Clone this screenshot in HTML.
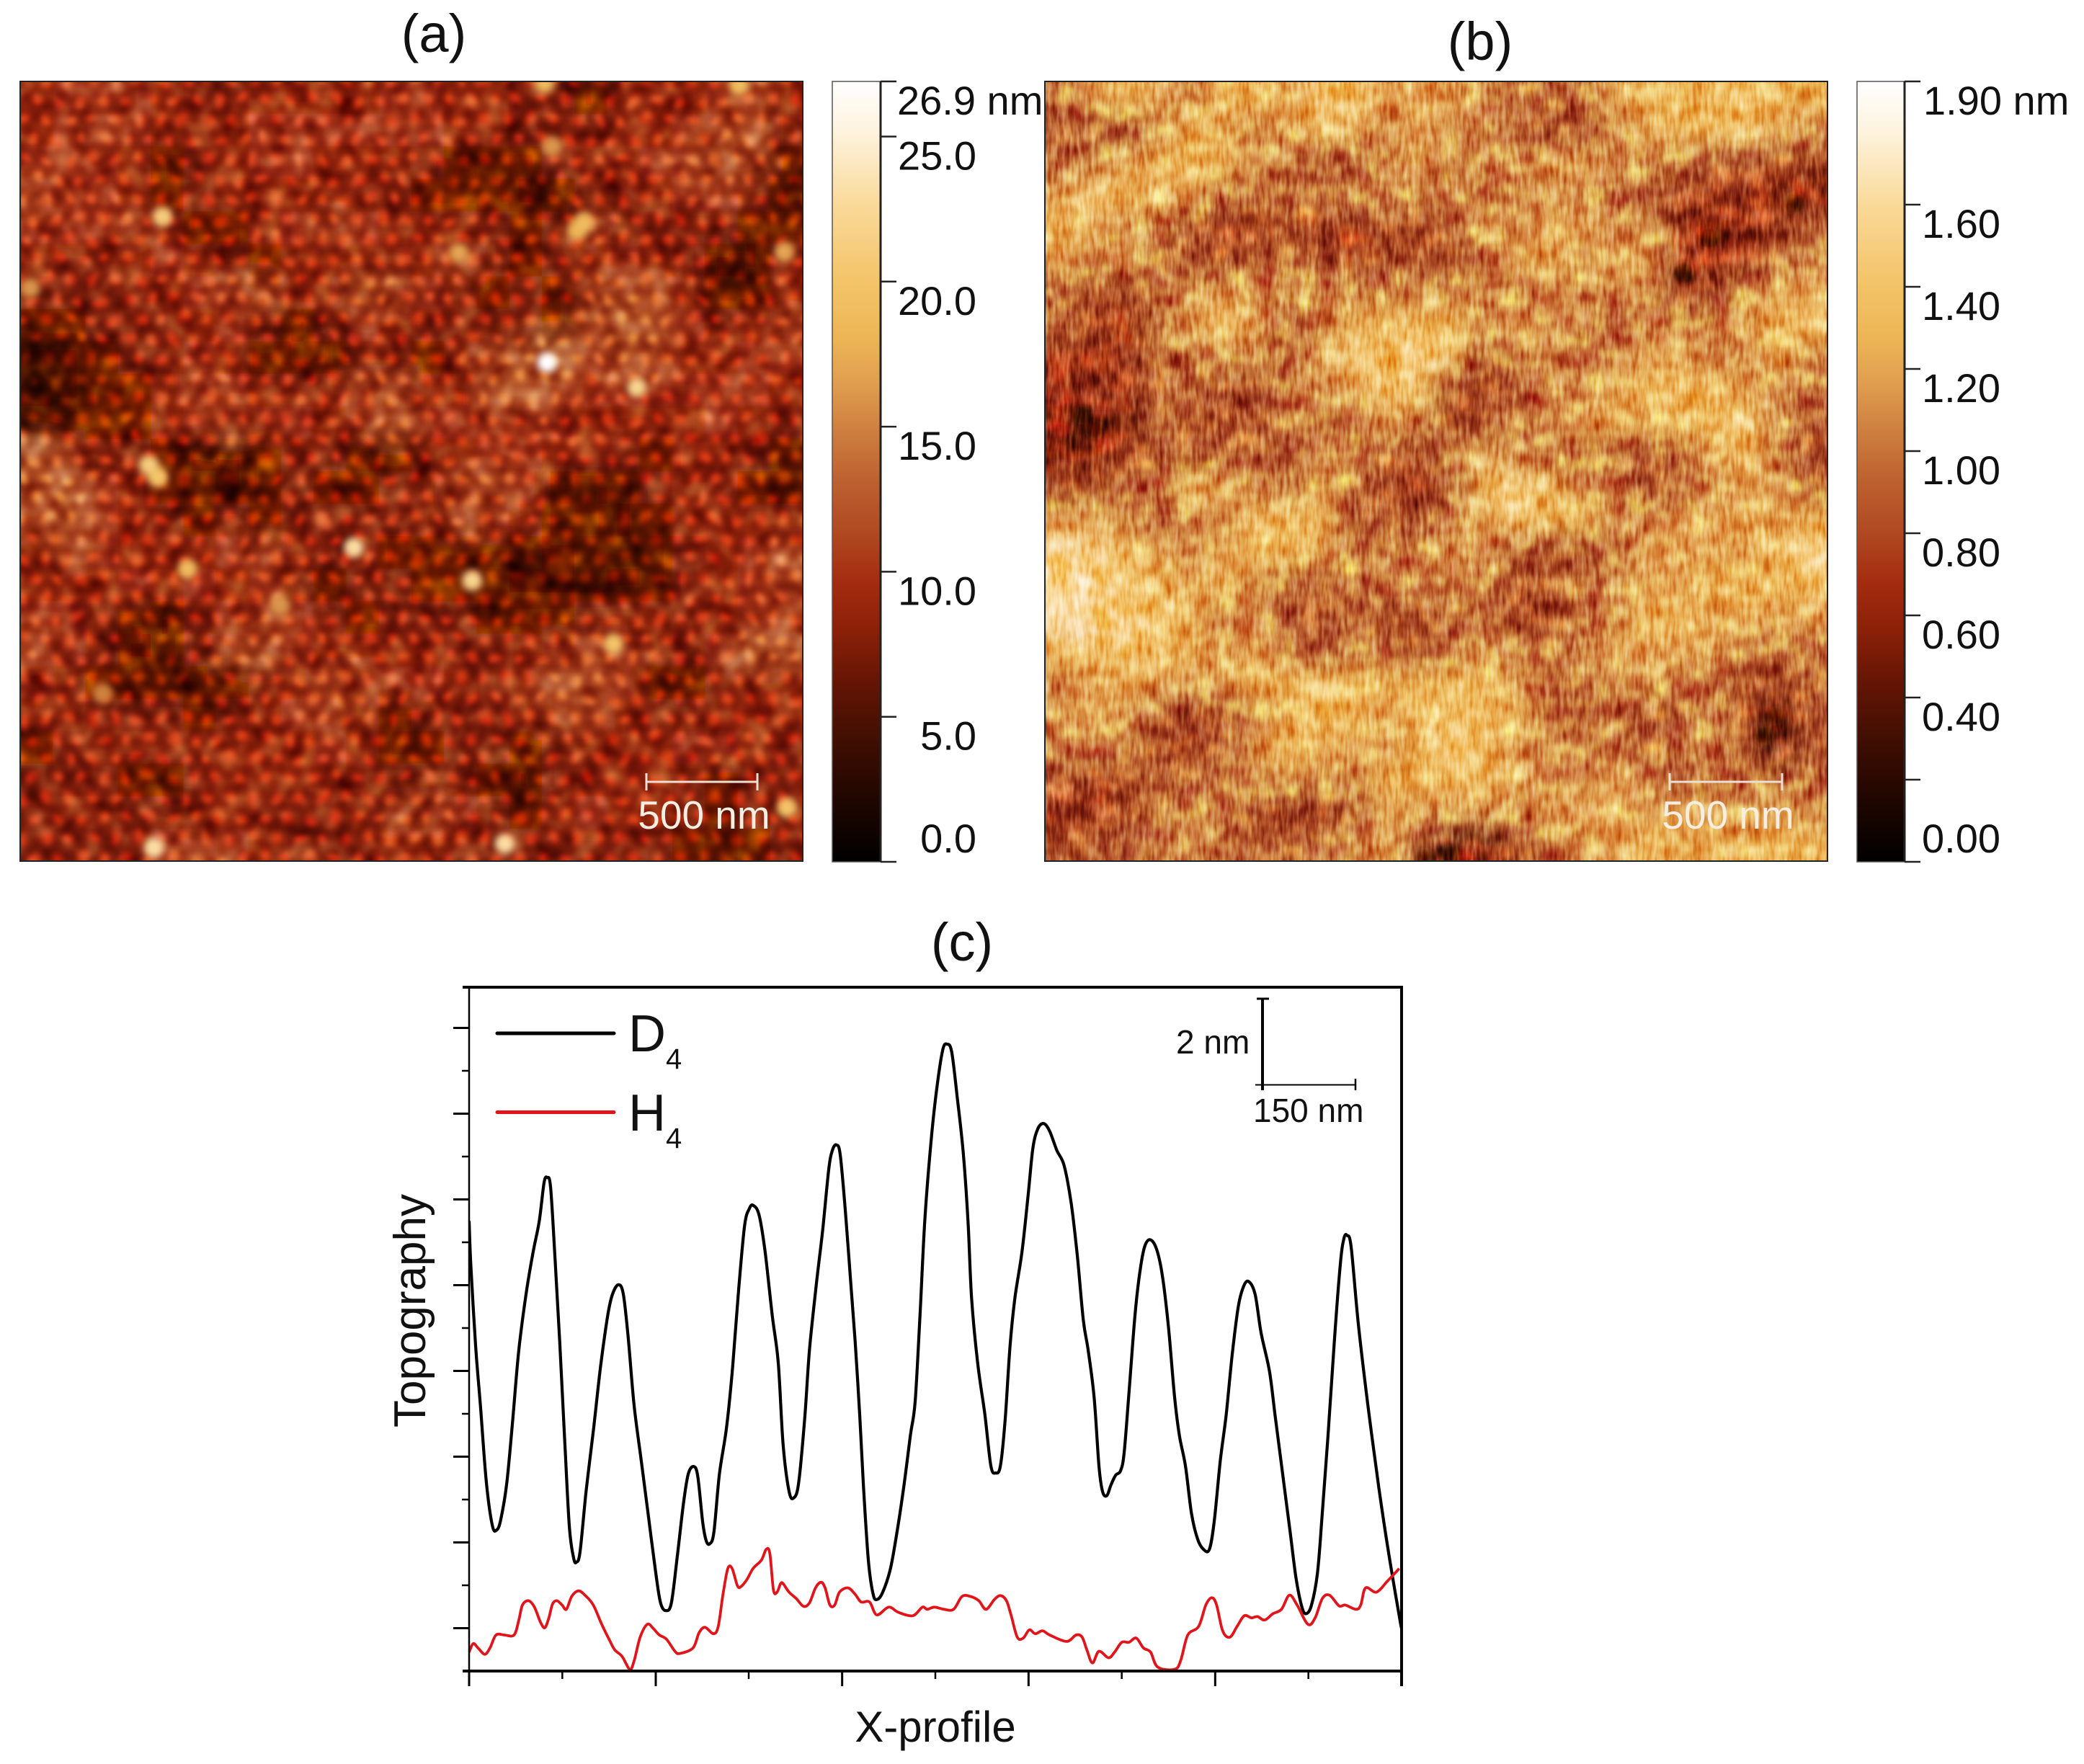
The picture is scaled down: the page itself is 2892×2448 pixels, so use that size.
<!DOCTYPE html>
<html lang="en">
<head>
<meta charset="utf-8">
<title>AFM topography of D4 and H4 films</title>
<style>
  html, body { margin: 0; padding: 0; background: #fff; }
  svg { display: block; }
  text { font-family: "Liberation Sans", sans-serif; fill: #111; }
</style>
</head>
<body>
<svg id="fig" xmlns="http://www.w3.org/2000/svg" width="2892" height="2448" viewBox="0 0 2892 2448">
  <defs>
    <clipPath id="clipA"><rect x="28" y="113" width="1086" height="1082"/></clipPath>
    <clipPath id="clipB"><rect x="1450" y="113" width="1086" height="1082"/></clipPath>
    <clipPath id="clipC"><rect x="651" y="1370" width="1294" height="949"/></clipPath>
    <filter id="smooth" filterUnits="userSpaceOnUse" x="-200" y="-100" width="3300" height="1600"><feGaussianBlur stdDeviation="18"/></filter>
    <filter id="soft" filterUnits="userSpaceOnUse" x="-200" y="-100" width="3300" height="1600"><feGaussianBlur stdDeviation="5"/></filter>
    <radialGradient id="dot"><stop offset="0" stop-color="#e4e4e4"/><stop offset="0.4" stop-color="#b8b8b8"/><stop offset="1" stop-color="#707070" stop-opacity="0"/></radialGradient>
    <pattern id="lattice" width="32" height="55.4" patternUnits="userSpaceOnUse">
      <rect width="32" height="55.4" fill="#707070"/>
      <circle cx="0" cy="0" r="15" fill="url(#dot)"/><circle cx="32" cy="0" r="15" fill="url(#dot)"/>
      <circle cx="0" cy="55.4" r="15" fill="url(#dot)"/><circle cx="32" cy="55.4" r="15" fill="url(#dot)"/>
      <circle cx="16" cy="27.7" r="15" fill="url(#dot)"/>
    </pattern>
    <filter id="warp" filterUnits="userSpaceOnUse" x="-100" y="0" width="1400" height="1300" color-interpolation-filters="sRGB">
      <feTurbulence type="fractalNoise" baseFrequency="0.018" numOctaves="2" seed="4" result="n"/>
      <feDisplacementMap in="SourceGraphic" in2="n" scale="22" xChannelSelector="R" yChannelSelector="G"/>
      <feGaussianBlur stdDeviation="2.4"/>
    </filter>
    <filter id="mottleA" filterUnits="userSpaceOnUse" x="20" y="100" width="1110" height="1110" color-interpolation-filters="sRGB">
      <feTurbulence type="fractalNoise" baseFrequency="0.03" numOctaves="2" seed="21"/>
      <feColorMatrix type="matrix" values="1.3 0 0 0 -0.15  1.3 0 0 0 -0.15  1.3 0 0 0 -0.15  0 0 0 0 1"/>
    </filter>
    <filter id="grain" filterUnits="userSpaceOnUse" x="1440" y="100" width="1110" height="1110" color-interpolation-filters="sRGB">
      <feTurbulence type="fractalNoise" baseFrequency="0.2 0.035" numOctaves="2" seed="7"/>
      <feColorMatrix type="matrix" values="1.3 0 0 0 -0.15  1.3 0 0 0 -0.15  1.3 0 0 0 -0.15  0 0 0 0 1"/>
    </filter>
    <filter id="mottle" filterUnits="userSpaceOnUse" x="1440" y="100" width="1110" height="1110" color-interpolation-filters="sRGB">
      <feTurbulence type="fractalNoise" baseFrequency="0.035" numOctaves="2" seed="11"/>
      <feColorMatrix type="matrix" values="1 0 0 0 0  1 0 0 0 0  1 0 0 0 0  0 0 0 0 1"/>
    </filter>
    <linearGradient id="barGradient" x1="0" y1="1" x2="0" y2="0"></linearGradient>
  </defs>

  <rect x="0" y="0" width="2892" height="2448" fill="#ffffff"/>

  <text x="602" y="72" font-size="74" text-anchor="middle">(a)</text>
  <text x="2054" y="83" font-size="74" text-anchor="middle">(b)</text>
  <text x="1335" y="1333" font-size="74" text-anchor="middle">(c)</text>

  <!-- Panel a -->
  <g clip-path="url(#clipA)" style="isolation:isolate">
    <rect x="28" y="113" width="1086" height="1082" fill="#8e3210"/>
    <g id="cellsA" filter="url(#smooth)"></g>
    <rect x="-40" y="50" width="1230" height="1210" fill="url(#lattice)" filter="url(#warp)" style="mix-blend-mode:overlay"/>
    <rect x="28" y="113" width="1086" height="1082" fill="#808080" filter="url(#mottleA)" style="mix-blend-mode:soft-light"/>
    <g id="particlesA" filter="url(#soft)"></g>
  </g>
  <rect x="28" y="113" width="1086" height="1082" fill="none" stroke="#222" stroke-width="2"/>
  <g stroke="#eadfd2" stroke-width="3" fill="none">
    <line x1="897" y1="1085" x2="1051" y2="1085"/><line x1="897" y1="1073" x2="897" y2="1097"/><line x1="1051" y1="1073" x2="1051" y2="1097"/>
  </g>
  <text x="977" y="1150" font-size="55" text-anchor="middle" style="fill:#f6eee2">500 nm</text>

  <!-- Panel b -->
  <g clip-path="url(#clipB)" style="isolation:isolate">
    <rect x="1450" y="113" width="1086" height="1082" fill="#d08a48"/>
    <g id="cellsB" filter="url(#smooth)"></g>
    <g id="pitsB" filter="url(#soft)"></g>
    <rect x="1450" y="113" width="1086" height="1082" filter="url(#mottle)" fill="#808080" style="mix-blend-mode:overlay"/>
    <rect x="1450" y="113" width="1086" height="1082" filter="url(#grain)" fill="#808080" style="mix-blend-mode:soft-light"/>
  </g>
  <rect x="1450" y="113" width="1086" height="1082" fill="none" stroke="#222" stroke-width="2"/>
  <g stroke="#eadfd2" stroke-width="3" fill="none">
    <line x1="2317" y1="1085" x2="2473" y2="1085"/><line x1="2317" y1="1073" x2="2317" y2="1097"/><line x1="2473" y1="1073" x2="2473" y2="1097"/>
  </g>
  <text x="2398" y="1150" font-size="55" text-anchor="middle" style="fill:#f6eee2">500 nm</text>

  <!-- Colour bars -->
  <rect x="1155" y="113" width="67" height="1083" fill="url(#barGradient)" stroke="#555" stroke-width="1.5"/>
  <line x1="1222" y1="113" x2="1222" y2="1196" stroke="#222" stroke-width="3"/>
  <g id="barTicksA"></g>
  <rect x="2577" y="113" width="66" height="1083" fill="url(#barGradient)" stroke="#555" stroke-width="1.5"/>
  <line x1="2643" y1="113" x2="2643" y2="1196" stroke="#222" stroke-width="3"/>
  <g id="barTicksB"></g>

  <!-- Panel c -->
  <g id="profileChart">
    <g clip-path="url(#clipC)">
      <path id="lineD4" fill="none" stroke="#000" stroke-width="4.2" stroke-linejoin="round"/>
      <path id="lineH4" fill="none" stroke="#e2141a" stroke-width="3.8" stroke-linejoin="round"/>
    </g>
    <g id="axisTicks" stroke="#000"></g>
    <line x1="651" y1="1370" x2="651" y2="2340" stroke="#000" stroke-width="2.5"/>
    <line x1="642" y1="2319" x2="1947" y2="2319" stroke="#000" stroke-width="4"/>
    <line x1="642" y1="1370" x2="1947" y2="1370" stroke="#000" stroke-width="4"/>
    <line x1="1945" y1="1368" x2="1945" y2="2340" stroke="#000" stroke-width="4"/>

    <line x1="690" y1="1434" x2="852" y2="1434" stroke="#000" stroke-width="5" stroke-linecap="round"/>
    <text x="872" y="1459" font-size="72">D</text>
    <text x="924" y="1483" font-size="40">4</text>
    <line x1="690" y1="1543.5" x2="852" y2="1543.5" stroke="#e2141a" stroke-width="5" stroke-linecap="round"/>
    <text x="872" y="1569" font-size="72">H</text>
    <text x="924" y="1593" font-size="40">4</text>

    <g stroke="#000" fill="none">
      <line x1="1752" y1="1386" x2="1752" y2="1513" stroke-width="4"/>
      <line x1="1744" y1="1386" x2="1761" y2="1386" stroke-width="3"/>
      <line x1="1742" y1="1505.5" x2="1882" y2="1505.5" stroke-width="2"/>
      <line x1="1881" y1="1497" x2="1881" y2="1513" stroke-width="2.5"/>
    </g>
    <text x="1632" y="1462" font-size="46">2 nm</text>
    <text x="1739" y="1557" font-size="46">150 nm</text>

    <text x="590" y="1819" font-size="62" text-anchor="middle" transform="rotate(-90 590 1819)">Topography</text>
    <text x="1298" y="2417" font-size="60" text-anchor="middle">X-profile</text>
  </g>
</svg>

<script>
// ---------- Chart data ----------
// Colour-bar tick values and labels
const barTicksAValues = [0, 5, 10, 15, 20, 25, 26.9];
const barTicksALabels = ["0.0", "5.0", "10.0", "15.0", "20.0", "25.0", "26.9 nm"];
const barTicksBValues = [0, 0.2, 0.4, 0.6, 0.8, 1.0, 1.2, 1.4, 1.6, 1.9];
const barTicksBLabels = ["0.00", "", "0.40", "0.60", "0.80", "1.00", "1.20", "1.40", "1.60", "1.90 nm"];

// Panel (a) height map, nm, estimated on a coarse grid
const heightRowsA = [
[9,10,10,10,9,8,8,9,9,9,9,10,10,9,9,8,8,6,9,9,9,10,11,9],
[9,10,11,10,9,9,9,10,10,10,10,10,10,9,9,8,9,8,9,9,10,11,11,8],
[10,10,10,9,6,8,9,10,10,9,9,9,8,6,7,6,8,9,9,10,11,12,11,7],
[11,10,10,9,7,8,9,9,9,9,8,8,7,7,7,5,6,8,8,9,10,10,8,6],
[10,10,10,11,9,7,7,9,10,11,10,9,9,9,8,7,8,11,8,8,8,8,6,7],
[9,8,8,9,10,9,8,7,9,9,9,8,9,11,8,7,8,9,10,9,8,5,4,9],
[8,8,8,8,9,10,11,11,9,9,12,11,10,8,7,8,7,11,12,11,9,5,7,9],
[7,7,8,8,8,9,10,8,6,8,10,9,8,8,8,8,7,11,13,12,10,8,9,11],
[4,5,7,8,8,10,9,5,7,5,8,8,6,9,11,12,14,10,12,11,9,9,10,10],
[4,4,7,7,9,11,10,9,8,9,11,11,9,9,12,13,11,10,10,10,10,10,10,9],
[6,7,7,7,9,10,11,10,10,9,10,12,10,10,10,10,10,9,9,9,9,10,9,8],
[12,10,8,8,7,5,5,7,8,8,6,7,8,9,10,10,9,9,8,7,9,9,8,6],
[12,13,10,9,7,6,5,7,8,7,7,8,8,11,12,10,6,5,6,8,9,8,7,6],
[11,13,10,9,8,7,8,7,8,8,8,8,9,11,10,9,7,7,5,7,9,9,9,9],
[9,11,10,9,9,9,10,11,9,8,9,7,7,7,7,6,5,6,6,6,8,9,10,11],
[9,9,9,10,9,10,9,10,8,6,8,8,7,7,6,5,5,6,5,6,8,9,10,11],
[10,10,8,7,5,8,10,11,10,8,7,8,8,8,7,7,7,8,9,9,8,9,10,10],
[11,10,8,5,6,8,11,12,10,9,9,9,9,8,8,9,10,11,11,9,8,10,13,12],
[10,8,7,7,6,5,7,8,9,11,11,10,10,9,8,9,12,12,10,7,6,8,9,9],
[9,9,8,8,8,7,8,9,10,11,9,7,8,8,8,9,11,11,9,8,8,9,9,9],
[7,8,9,9,9,9,9,9,9,10,9,6,7,8,8,7,8,9,9,9,10,10,9,8],
[8,8,8,7,5,8,9,9,9,9,8,8,8,8,7,4,8,8,9,9,8,7,8,8],
[8,9,9,8,8,9,9,8,8,8,9,11,11,10,8,7,9,10,9,9,8,7,8,9],
[8,8,8,8,10,11,10,9,8,8,8,9,9,8,8,8,8,8,8,8,7,6,7,8]
];

// Panel (b) height map, nm, estimated on a coarse grid
const heightRowsB = [
[1.0,1.2,1.3,1.2,1.1,1.3,1.3,1.2,1.5,1.4,1.2,1.2,1.2,1.1,1.0,1.0,1.0,1.2,1.3,1.3,1.3,1.4,1.3,1.3],
[0.9,0.85,0.85,1.1,1.3,1.2,1.1,1.2,1.3,1.2,1.1,1.2,1.1,1.1,0.9,0.85,0.85,1.1,1.2,1.3,1.4,1.4,1.2,1.1],
[1.0,1.1,1.2,1.3,1.3,1.3,1.1,1.0,0.9,0.9,1.1,1.2,1.0,1.1,1.1,1.2,1.2,1.1,1.1,1.0,0.9,0.9,0.8,0.8],
[1.2,1.45,1.3,1.2,1.2,1.0,1.0,1.0,1.0,1.1,1.1,1.0,1.1,1.0,1.1,1.1,1.1,1.0,0.9,0.8,0.75,0.75,0.65,0.65],
[1.3,1.2,1.1,1.1,0.8,0.75,0.7,0.85,0.75,0.7,0.85,0.8,0.95,1.2,1.1,1.2,1.2,1.1,1.1,0.7,0.6,0.7,0.8,0.9],
[1.2,1.1,1.2,0.95,0.9,0.85,0.95,1.0,0.85,0.8,0.85,0.85,0.8,1.0,1.2,1.25,1.1,1.2,1.2,0.75,0.7,0.7,0.95,1.1],
[1.0,0.8,0.8,1.0,1.1,1.2,1.1,1.1,1.1,1.1,1.1,1.1,1.1,1.1,1.0,1.1,1.1,1.1,1.1,0.7,0.85,1.1,1.2,1.2],
[1.0,0.8,0.65,1.0,1.2,1.35,1.2,0.9,1.1,1.25,1.3,1.4,1.3,1.1,1.2,1.1,1.1,0.95,1.1,1.1,1.1,1.2,1.3,1.4],
[0.7,0.7,0.75,1.0,1.0,1.1,1.1,0.95,1.2,1.45,1.4,1.5,1.35,0.85,1.1,1.1,1.0,1.1,1.2,1.2,1.1,1.1,1.25,1.1],
[0.7,0.75,0.75,0.9,1.0,0.8,0.75,1.1,1.1,1.2,1.4,1.3,0.85,0.8,0.9,1.1,1.1,1.2,1.3,1.35,1.35,1.2,1.1,1.0],
[0.5,0.5,0.6,1.0,0.85,0.9,0.9,1.0,1.0,1.0,1.2,1.1,0.75,0.85,1.0,1.1,1.2,1.25,1.2,1.3,1.3,1.4,1.1,0.9],
[0.6,0.65,0.75,0.95,0.9,0.95,0.95,0.9,1.1,1.1,0.9,0.8,1.1,1.2,1.1,1.0,1.0,0.95,0.85,1.0,1.2,1.35,1.1,0.8],
[0.8,0.85,1.0,1.05,1.3,1.2,1.1,1.0,1.2,0.95,0.8,0.7,0.9,1.4,1.45,1.3,1.1,1.1,0.75,1.0,1.1,1.2,1.15,0.95],
[1.2,1.2,1.1,0.95,1.1,1.1,1.35,1.35,1.3,0.9,0.95,0.85,1.1,1.2,1.45,1.3,1.3,1.1,1.1,1.2,1.2,1.25,1.2,1.3],
[1.5,1.5,1.35,1.2,1.1,1.2,1.3,1.3,1.2,1.0,1.0,1.1,1.15,1.1,0.95,0.8,0.85,1.0,1.2,1.2,1.2,1.2,1.3,1.5],
[1.6,1.5,1.4,1.3,1.2,1.3,1.1,0.95,0.95,1.0,1.1,1.05,1.1,1.05,0.85,0.95,1.0,1.1,1.2,1.2,1.3,1.3,1.3,1.4],
[1.65,1.55,1.5,1.4,1.25,1.05,1.15,0.9,0.85,0.95,0.8,0.85,0.95,1.0,0.75,0.8,1.0,1.1,1.3,1.3,1.2,1.25,1.2,1.2],
[1.3,1.35,1.45,1.35,1.25,1.15,1.2,1.05,0.9,1.05,1.0,0.85,1.05,1.15,1.05,1.0,1.1,1.2,1.2,1.2,1.2,1.05,1.0,1.0],
[1.1,1.2,1.25,1.2,1.15,1.2,1.3,1.3,1.4,1.3,1.25,1.3,1.3,1.3,1.15,1.0,1.0,1.1,1.15,1.05,1.0,0.85,0.8,0.95],
[1.15,1.2,1.15,0.9,0.75,0.85,1.1,1.25,1.4,1.3,1.2,1.3,1.4,1.35,1.25,1.0,0.95,1.0,0.85,0.95,1.1,0.8,0.5,0.85],
[1.05,1.1,1.0,0.85,0.8,0.9,1.2,1.3,1.25,1.2,1.15,1.3,1.5,1.35,1.15,1.1,1.05,1.05,0.9,1.05,1.1,0.85,0.55,0.9],
[0.9,0.75,0.85,0.95,0.95,1.05,1.1,1.15,1.1,1.1,1.3,1.3,1.35,1.3,1.2,1.1,1.1,1.2,1.1,0.9,1.0,1.0,1.0,1.0],
[0.7,0.7,0.85,1.0,1.1,1.05,0.8,0.7,0.7,0.9,1.2,1.15,1.15,1.15,1.1,1.2,1.2,1.2,1.15,1.2,1.2,1.1,1.2,1.1],
[0.85,0.95,0.9,1.05,1.1,1.0,0.95,0.95,1.0,1.1,1.2,0.9,0.55,0.55,0.85,1.0,1.15,1.2,1.3,1.25,1.25,1.3,1.3,1.3]
];

// Bright particles in (a): scan position in nm and apex height in nm
const particleScanX = [641,2509,2540,1976,2374,2779,580,620,1503,754,2036,2673,3443,45,2396,2363,3240,603,2183,3454,371,1170];
const particleScanY = [612,675,640,776,1271,1384,1735,1790,2108,2205,2257,2543,770,934,293,7,18,3465,3447,3285,2768,2367];
const particleHeight = [21,18,19,17,27,22,21,20,23,19,22,20,17,16,16,19,19,23,23,20,15,16];

// Deep pits in (b): scan position in nm and floor height in nm
const pitScanX = [169,225,2880,2993,3375,3240,3296,1823,1710];
const pitScanY = [1508,1575,866,709,551,2959,2869,3499,3510];
const pitHeight = [0.28,0.35,0.4,0.45,0.42,0.3,0.35,0.28,0.35];

// Panel (c) tick positions (scan samples, heights in nm)
const xMajorTicks = [3,780,1556,2332,3109,3885];
const xMinorTicks = [391,1167,1944,2720,3497];
const yMajorTicks = [1,3,5,7,9,11,13,15];
const yMinorTicks = [2,4,6,8,10,12,14];

// Panel (c) D4 profile
const d4Sample = [3,10,30,50,75,100,118,135,160,185,210,240,270,295,315,328,342,360,380,400,420,438,450,465,490,520,550,580,600,625,645,665,690,720,750,780,800,822,845,870,895,915,938,955,975,990,1005,1022,1045,1075,1100,1125,1150,1170,1186,1210,1235,1265,
1290,1310,1335,1355,1375,1400,1420,1450,1475,1500,1515,1532,1548,1570,1590,1610,1630,1645,1665,1685,1702,1725,1755,1780,1810,1840,1860,1880,1900,1925,1950,1975,1993,2012,2035,2060,2080,2095,2120,2150,2175,2195,2215,2235,2255,2275,2305,2330,2350,2370,2395,2420,2450,2480,2510,2535,2560,
2580,2605,2625,2640,2658,2675,2695,2715,2730,2750,2775,2795,2815,2838,2865,2890,2915,2940,2960,2985,3010,3035,3060,3085,3105,3130,3155,3180,3205,3225,3247,3275,3300,3335,3360,3390,3420,3445,3470,3488,3510,3535,3555,3580,3605,3630,3645,3658,3675,3705,3745,3790,3830,3875,3885];
const d4Height = [10.5,9.49,7.59,6.19,4.39,3.39,3.29,3.54,4.39,5.89,7.49,8.79,9.79,10.49,11.39,11.51,11.29,9.69,7.69,5.49,3.39,2.64,2.54,2.79,4.19,5.59,7.09,8.29,8.79,9.01,8.79,7.79,6.19,4.89,3.59,2.29,1.59,1.41,1.59,2.69,3.89,4.59,4.77,4.54,3.49,3.04,2.97,3.24,4.59,5.69,7.09,8.89,10.39,10.79,10.86,10.64,9.79,8.29,
7.19,5.29,4.19,4.04,4.39,5.89,7.49,9.09,10.29,11.69,12.14,12.27,12.04,10.69,9.19,7.69,5.89,4.29,2.59,1.79,1.67,1.84,2.34,3.09,4.19,5.49,6.29,8.29,10.49,12.29,13.59,14.49,14.62,14.44,13.39,12.09,10.49,8.69,7.19,5.99,4.79,4.62,4.79,5.89,7.59,8.69,9.79,11.09,12.19,12.64,12.77,12.59,12.14,11.79,10.89,9.69,8.19,
7.49,6.39,4.79,4.19,4.09,4.34,4.57,4.67,5.09,6.49,8.29,9.29,9.89,10.06,9.84,9.19,7.99,6.39,5.49,4.79,3.69,3.09,2.84,2.84,3.49,4.89,5.99,7.39,8.49,8.94,9.09,8.79,7.89,6.99,5.89,4.59,3.29,2.19,1.49,1.34,1.54,2.29,3.69,5.59,7.69,9.49,10.09,10.16,9.89,8.09,6.19,4.29,2.79,1.29,0.99];

// Panel (c) H4 profile
const h4Sample = [3,20,40,68,90,115,150,190,210,225,250,275,300,318,335,350,368,390,408,430,458,485,520,555,590,610,640,672,690,715,745,770,795,825,860,880,935,960,985,1020,1040,1060,1080,1098,1120,1135,1160,1185,1220,1240,1255,1270,1285,
1300,1310,1335,1365,1395,1420,1445,1468,1485,1505,1525,1545,1580,1610,1635,1670,1700,1750,1790,1850,1890,1910,1940,1980,2020,2055,2090,2125,2155,2190,2215,2240,2260,2285,2310,2335,2360,2390,2420,2490,2530,2555,2575,
2598,2625,2665,2690,2720,2750,2780,2810,2840,2870,2940,2965,2995,3040,3070,3095,3115,3140,3170,3200,3230,3260,3285,3315,3350,3385,3418,3450,3495,3525,3555,3585,3625,3650,3695,3715,3735,3780,3825,3875];
const h4Height = [0.44,0.64,0.54,0.39,0.54,0.84,0.84,0.84,1.19,1.54,1.64,1.49,1.14,1.01,1.24,1.56,1.64,1.54,1.44,1.74,1.87,1.77,1.54,1.09,0.69,0.49,0.34,0.04,0.24,0.79,1.09,0.99,0.84,0.74,0.46,0.41,0.54,0.89,1.02,0.87,1.04,1.79,2.39,2.39,1.99,1.97,2.14,2.39,2.59,2.84,2.74,1.89,1.84,
2.04,2.04,1.84,1.69,1.51,1.59,1.94,2.07,1.94,1.54,1.54,1.84,1.94,1.79,1.61,1.61,1.31,1.49,1.37,1.29,1.49,1.44,1.49,1.44,1.44,1.74,1.74,1.64,1.44,1.67,1.76,1.64,1.29,0.79,0.77,0.96,0.87,0.94,0.84,0.69,0.84,0.79,0.49,
0.19,0.46,0.31,0.44,0.67,0.67,0.77,0.54,0.44,0.09,0.04,0.24,0.84,1.04,1.54,1.71,1.54,0.94,0.79,1.04,1.29,1.24,1.27,1.19,1.34,1.44,1.77,1.54,1.09,1.24,1.69,1.77,1.52,1.54,1.44,1.54,1.94,1.84,2.09,2.39];

// ---------- Scales ----------
const SVGNS = "http://www.w3.org/2000/svg";
const colormapStops = [
  [0, [0,0,0]], [0.1, [40,8,1]], [0.167, [69,16,3]], [0.23, [101,21,5]], [0.295, [138,32,8]],
  [0.359, [164,44,16]], [0.423, [176,74,34]], [0.487, [189,96,48]], [0.55, [205,126,63]],
  [0.615, [224,159,80]], [0.67, [236,181,85]], [0.744, [243,196,105]], [0.84, [249,217,152]],
  [0.936, [253,243,222]], [1, [255,255,255]]
];
function afmColor(f) {
  f = Math.max(0, Math.min(1, f));
  for (let i = 1; i < colormapStops.length; i++) {
    const a = colormapStops[i - 1], b = colormapStops[i];
    if (f <= b[0]) {
      const t = (f - a[0]) / (b[0] - a[0]);
      const c = a[1].map(function (v, k) { return Math.round(v + (b[1][k] - v) * t); });
      return "rgb(" + c.join(",") + ")";
    }
  }
  return "rgb(255,255,255)";
}
const barGradient = document.getElementById("barGradient");
colormapStops.forEach(function (s) {
  const st = document.createElementNS(SVGNS, "stop");
  st.setAttribute("offset", s[0]);
  st.setAttribute("stop-color", "rgb(" + s[1].join(",") + ")");
  barGradient.appendChild(st);
});

const RANGE_A = 26.9, RANGE_B = 1.9, SCAN_NM = 3526;

function drawHeightMap(rows, groupId, left, top, width, height, range) {
  const group = document.getElementById(groupId);
  const nRows = rows.length, nCols = rows[0].length;
  const cw = width / nCols, ch = height / nRows;
  rows.forEach(function (row, r) {
    row.forEach(function (value, c) {
      const el = document.createElementNS(SVGNS, "rect");
      const pad = 70;
      const x0 = left + c * cw - (c === 0 ? pad : 0);
      const x1 = left + (c + 1) * cw + (c === nCols - 1 ? pad : 0);
      const y0 = top + r * ch - (r === 0 ? pad : 0);
      const y1 = top + (r + 1) * ch + (r === nRows - 1 ? pad : 0);
      el.setAttribute("x", x0);
      el.setAttribute("y", y0);
      el.setAttribute("width", x1 - x0 + 0.6);
      el.setAttribute("height", y1 - y0 + 0.6);
      el.setAttribute("fill", afmColor(value / range));
      
      
      group.appendChild(el);
    });
  });
}
drawHeightMap(heightRowsA, "cellsA", 28, 113, 1086, 1082, RANGE_A);
drawHeightMap(heightRowsB, "cellsB", 1450, 113, 1086, 1082, RANGE_B);

function drawSpots(xs, ys, hs, groupId, left, top, range, radius) {
  const group = document.getElementById(groupId);
  xs.forEach(function (sx, i) {
    const el = document.createElementNS(SVGNS, "circle");
    el.setAttribute("cx", left + sx / SCAN_NM * 1086);
    el.setAttribute("cy", top + ys[i] / SCAN_NM * 1082);
    el.setAttribute("r", radius);
    el.setAttribute("fill", afmColor(hs[i] / range));
    
    
    group.appendChild(el);
  });
}
drawSpots(particleScanX, particleScanY, particleHeight, "particlesA", 28, 113, RANGE_A, 14);
drawSpots(pitScanX, pitScanY, pitHeight, "pitsB", 1450, 113, RANGE_B, 14);

// ---------- Colour-bar axes ----------
function drawBarAxis(values, labels, range, groupId, axisX, labelRight, topLabelX) {
  const group = document.getElementById(groupId);
  const yOf = function (v) { return 1196 - v / range * 1083; };
  values.forEach(function (v, i) {
    const y = yOf(v);
    const tick = document.createElementNS(SVGNS, "line");
    tick.setAttribute("x1", axisX);
    tick.setAttribute("x2", axisX + 22);
    tick.setAttribute("y1", y);
    tick.setAttribute("y2", y);
    tick.setAttribute("stroke", "#222");
    tick.setAttribute("stroke-width", "2.5");
    
    
    group.appendChild(tick);
    if (!labels[i]) return;
    const t = document.createElementNS(SVGNS, "text");
    const isTop = i === values.length - 1;
    const isBottom = i === 0;
    t.setAttribute("font-size", "56");
    t.setAttribute("x", isTop ? topLabelX : labelRight);
    t.setAttribute("text-anchor", isTop ? "start" : "end");
    t.setAttribute("y", isBottom ? y - 13 : y + 46);
    
    
    t.textContent = labels[i];
    group.appendChild(t);
  });
}
drawBarAxis(barTicksAValues, barTicksALabels, RANGE_A, "barTicksA", 1222, 1355, 1245);
drawBarAxis(barTicksBValues, barTicksBLabels, RANGE_B, "barTicksB", 2643, 2776, 2669);

// ---------- Profile chart ----------
function xScale(sample) { return 650 + sample / 3; }
function yScale(nm) { return 2319 - nm * 59.5; }
// Draws through every read-off point with a rounded (Catmull-Rom) curve.
function linePath(xs, ys) {
  const px = xs.map(xScale), py = ys.map(yScale);
  const n = px.length;
  let d = "M" + px[0].toFixed(1) + " " + py[0].toFixed(1);
  for (let i = 0; i < n - 1; i++) {
    const i0 = Math.max(0, i - 1), i3 = Math.min(n - 1, i + 2);
    const c1x = px[i] + (px[i + 1] - px[i0]) / 6, c1y = py[i] + (py[i + 1] - py[i0]) / 6;
    const c2x = px[i + 1] - (px[i3] - px[i]) / 6, c2y = py[i + 1] - (py[i3] - py[i]) / 6;
    d += " C" + c1x.toFixed(1) + " " + c1y.toFixed(1) + " " + c2x.toFixed(1) + " " + c2y.toFixed(1) + " " + px[i + 1].toFixed(1) + " " + py[i + 1].toFixed(1);
  }
  return d;
}
document.getElementById("lineD4").setAttribute("d", linePath(d4Sample, d4Height));
document.getElementById("lineH4").setAttribute("d", linePath(h4Sample, h4Height));

const axisTicks = document.getElementById("axisTicks");
function addTick(x1, y1, x2, y2, w) {
  const el = document.createElementNS(SVGNS, "line");
  el.setAttribute("x1", x1);
  el.setAttribute("y1", y1);
  el.setAttribute("x2", x2);
  el.setAttribute("y2", y2);
  el.setAttribute("stroke-width", w);
  
  
  axisTicks.appendChild(el);
}
xMajorTicks.forEach(function (s) { addTick(xScale(s), 2319, xScale(s), 2340, 3); });
xMinorTicks.forEach(function (s) { addTick(xScale(s), 2319, xScale(s), 2330, 2.5); });
yMajorTicks.forEach(function (h) { addTick(629, yScale(h), 651, yScale(h), 3); });
yMinorTicks.forEach(function (h) { addTick(641, yScale(h), 651, yScale(h), 2.5); });
</script>
</body>
</html>
